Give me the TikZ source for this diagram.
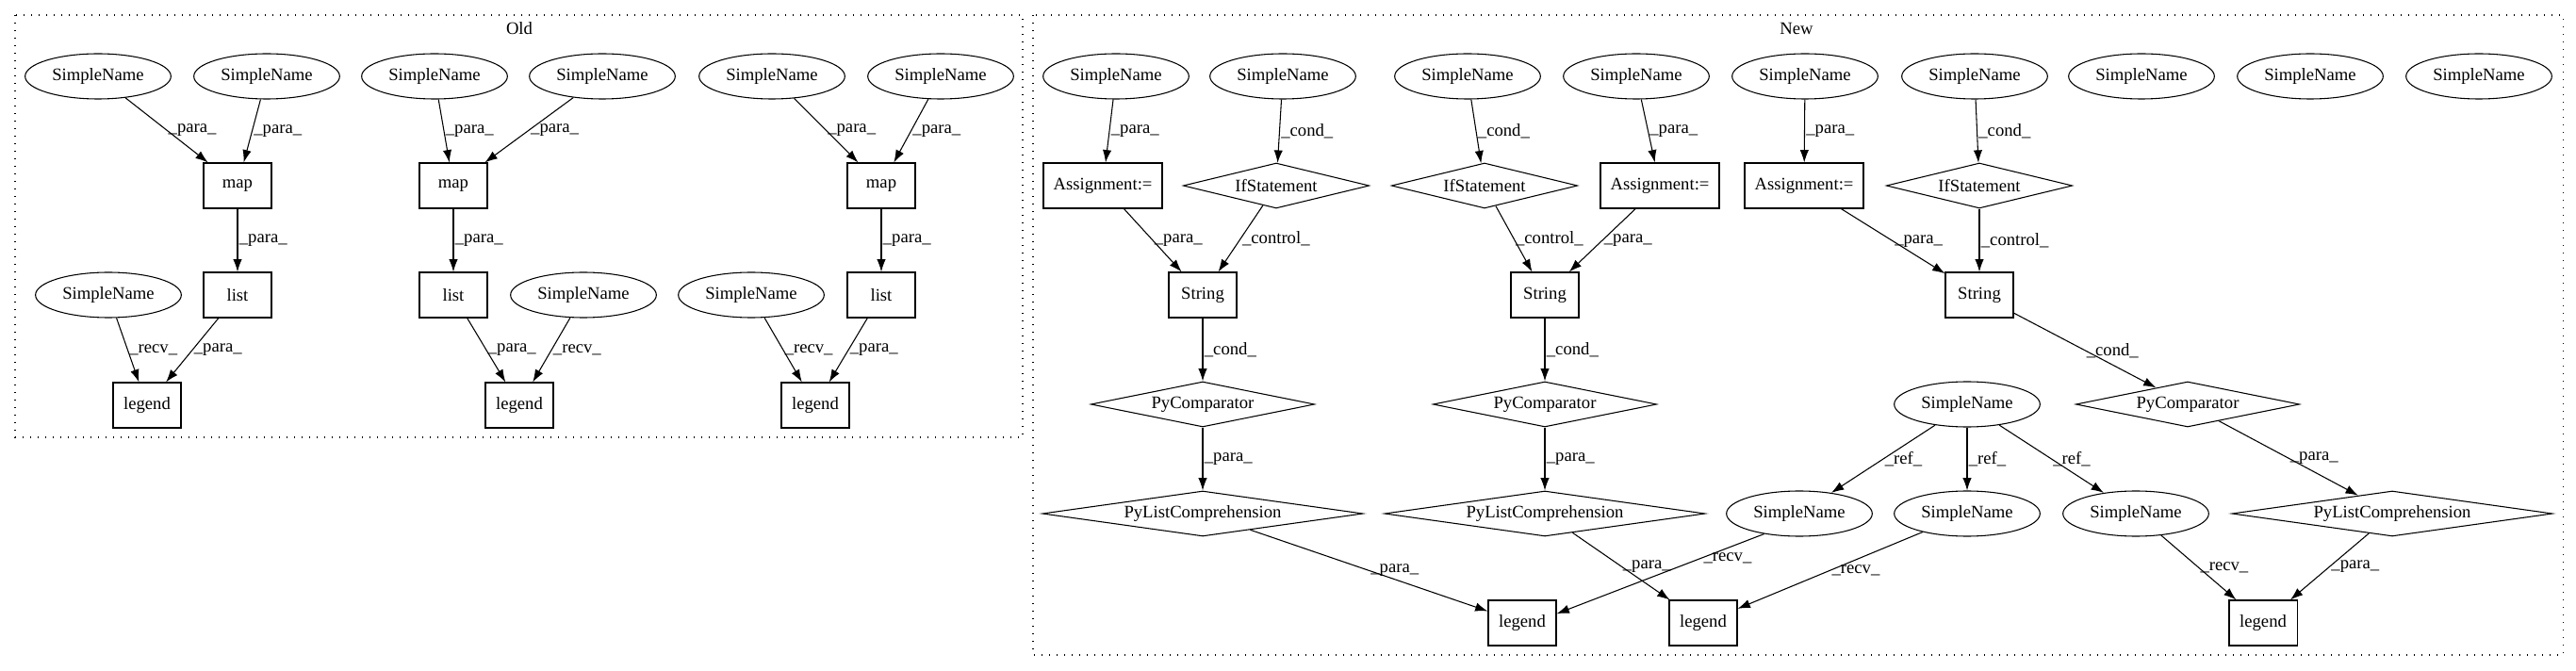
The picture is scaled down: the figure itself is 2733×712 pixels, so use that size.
\documentclass[tikz,border=0pt]{standalone}
\usepackage{fontspec}
\setmainfont{Liberation Serif}
\usetikzlibrary{shapes,arrows.meta}
\tikzset{>={Latex[length=10pt,width=7pt]}}

\begin{document}
\begin{tikzpicture}[x=0.75pt,y=-0.75pt,
      % define styles
      every node/.style={font=\fontsize{14pt}{16pt}\selectfont},
      sname/.style={draw,ellipse,line width=0.8pt,minimum width=116pt,minimum height=36pt,inner sep=0pt},
      box/.style={draw,rectangle,line width=0.8pt,minimum width=54pt,minimum height=36pt,inner sep=0pt},
      test/.style={draw,diamond,aspect=6,line width=0.8pt,minimum height=36pt,inner sep=0pt},
      conn/.style={->,line width=0.8pt},
      lbl/.style={midway,anchor=west,inner sep=1pt},
      cluster/.style={line width=0.8pt,dash pattern=on 1pt off 5pt}
  ]
  \useasboundingbox (0,0) rectangle (2733,712);
  % clusters
  \draw[cluster] (16,16) rectangle (1085,464);
  \draw[cluster] (1096,16) rectangle (2719,695);
  \node (old) at (551,30) {Old};
  \node (new) at (1906,30) {New};

  % Old, first group
  \node[sname] (oa1) at (104,81) {SimpleName};
  \node[sname] (oa2) at (283,81) {SimpleName};
  \node[box] (omap1) at (252,197) {map};
  \node[box] (olist1) at (252,313) {list};
  \node[sname] (orecv1) at (115,313) {SimpleName};
  \node[box] (oleg1) at (156,430) {legend};
  \draw[conn] (oa1) -- node[lbl] {\_para\_} (omap1);
  \draw[conn] (oa2) -- node[lbl] {\_para\_} (omap1);
  \draw[conn] (omap1) -- node[lbl] {\_para\_} (olist1);
  \draw[conn] (orecv1) -- node[lbl] {\_recv\_} (oleg1);
  \draw[conn] (olist1) -- node[lbl] {\_para\_} (oleg1);
  % Old, second group
  \node[sname] (oa3) at (461,81) {SimpleName};
  \node[sname] (oa4) at (639,81) {SimpleName};
  \node[box] (omap2) at (481,197) {map};
  \node[box] (olist2) at (481,313) {list};
  \node[sname] (orecv2) at (619,313) {SimpleName};
  \node[box] (oleg2) at (551,430) {legend};
  \draw[conn] (oa3) -- node[lbl] {\_para\_} (omap2);
  \draw[conn] (oa4) -- node[lbl] {\_para\_} (omap2);
  \draw[conn] (omap2) -- node[lbl] {\_para\_} (olist2);
  \draw[conn] (olist2) -- node[lbl] {\_para\_} (oleg2);
  \draw[conn] (orecv2) -- node[lbl] {\_recv\_} (oleg2);
  % Old, third group
  \node[sname] (oa5) at (819,81) {SimpleName};
  \node[sname] (oa6) at (998,81) {SimpleName};
  \node[box] (omap3) at (935,197) {map};
  \node[box] (olist3) at (935,313) {list};
  \node[sname] (orecv3) at (797,313) {SimpleName};
  \node[box] (oleg3) at (865,430) {legend};
  \draw[conn] (oa5) -- node[lbl] {\_para\_} (omap3);
  \draw[conn] (oa6) -- node[lbl] {\_para\_} (omap3);
  \draw[conn] (omap3) -- node[lbl] {\_para\_} (olist3);
  \draw[conn] (orecv3) -- node[lbl] {\_recv\_} (oleg3);
  \draw[conn] (olist3) -- node[lbl] {\_para\_} (oleg3);

  % New, first chain
  \node[sname] (na1) at (1184,81) {SimpleName};
  \node[sname] (na2) at (1361,81) {SimpleName};
  \node[box,minimum width=94.5pt] (nasg1) at (1170,197) {Assignment:=};
  \node[test,minimum width=148pt] (nif1) at (1354,197) {IfStatement};
  \node[box] (nstr1) at (1276,313) {String};
  \node[test,minimum width=178pt] (ncmp1) at (1276,429) {PyComparator};
  \node[test,minimum width=255pt] (nlc1) at (1276,545) {PyListComprehension};
  \node[box] (nleg1) at (1615,661) {legend};
  \draw[conn] (na1) -- node[lbl] {\_para\_} (nasg1);
  \draw[conn] (na2) -- node[lbl] {\_cond\_} (nif1);
  \draw[conn] (nasg1) -- node[lbl] {\_para\_} (nstr1);
  \draw[conn] (nif1) -- node[lbl] {\_control\_} (nstr1);
  \draw[conn] (nstr1) -- node[lbl] {\_cond\_} (ncmp1);
  \draw[conn] (ncmp1) -- node[lbl] {\_para\_} (nlc1);
  \draw[conn] (nlc1) -- node[lbl] {\_para\_} (nleg1);
  % New, second chain
  \node[sname] (na3) at (1557,81) {SimpleName};
  \node[sname] (na4) at (1736,81) {SimpleName};
  \node[test,minimum width=148pt] (nif2) at (1575,197) {IfStatement};
  \node[box,minimum width=94.5pt] (nasg2) at (1761,197) {Assignment:=};
  \node[box] (nstr2) at (1639,313) {String};
  \node[test,minimum width=178pt] (ncmp2) at (1639,429) {PyComparator};
  \node[test,minimum width=255pt] (nlc2) at (1639,545) {PyListComprehension};
  \node[box] (nleg2) at (1807,661) {legend};
  \draw[conn] (na3) -- node[lbl] {\_cond\_} (nif2);
  \draw[conn] (na4) -- node[lbl] {\_para\_} (nasg2);
  \draw[conn] (nif2) -- node[lbl] {\_control\_} (nstr2);
  \draw[conn] (nasg2) -- node[lbl] {\_para\_} (nstr2);
  \draw[conn] (nstr2) -- node[lbl] {\_cond\_} (ncmp2);
  \draw[conn] (ncmp2) -- node[lbl] {\_para\_} (nlc2);
  \draw[conn] (nlc2) -- node[lbl] {\_para\_} (nleg2);
  % New, third chain
  \node[sname] (na5) at (1915,81) {SimpleName};
  \node[sname] (na6) at (2095,81) {SimpleName};
  \node[box,minimum width=94.5pt] (nasg3) at (1914,197) {Assignment:=};
  \node[test,minimum width=148pt] (nif3) at (2100,197) {IfStatement};
  \node[box] (nstr3) at (2100,313) {String};
  \node[test,minimum width=178pt] (ncmp3) at (2321,429) {PyComparator};
  \node[test,minimum width=255pt] (nlc3) at (2538,545) {PyListComprehension};
  \node[box] (nleg3) at (2401,661) {legend};
  \draw[conn] (na5) -- node[lbl] {\_para\_} (nasg3);
  \draw[conn] (na6) -- node[lbl] {\_cond\_} (nif3);
  \draw[conn] (nasg3) -- node[lbl] {\_para\_} (nstr3);
  \draw[conn] (nif3) -- node[lbl] {\_control\_} (nstr3);
  \draw[conn] (nstr3) -- node[lbl] {\_cond\_} (ncmp3);
  \draw[conn] (ncmp3) -- node[lbl] {\_para\_} (nlc3);
  \draw[conn] (nlc3) -- node[lbl] {\_para\_} (nleg3);
  % unused names
  \node[sname] (na7) at (2272,81) {SimpleName};
  \node[sname] (na8) at (2451,81) {SimpleName};
  \node[sname] (na9) at (2630,81) {SimpleName};
  % shared receiver and its refs
  \node[sname] (nhub) at (2087,429) {SimpleName};
  \node[sname] (nref1) at (1909,545) {SimpleName};
  \node[sname] (nref2) at (2087,545) {SimpleName};
  \node[sname] (nref3) at (2266,545) {SimpleName};
  \draw[conn] (nhub) -- node[lbl] {\_ref\_} (nref1);
  \draw[conn] (nhub) -- node[lbl] {\_ref\_} (nref2);
  \draw[conn] (nhub) -- node[lbl] {\_ref\_} (nref3);
  \draw[conn] (nref1.-150) -- node[lbl,pos=0.3] {\_recv\_} (nleg1.15);
  \draw[conn] (nref2) -- node[lbl] {\_recv\_} (nleg2);
  \draw[conn] (nref3) -- node[lbl] {\_recv\_} (nleg3);
\end{tikzpicture}
\end{document}
